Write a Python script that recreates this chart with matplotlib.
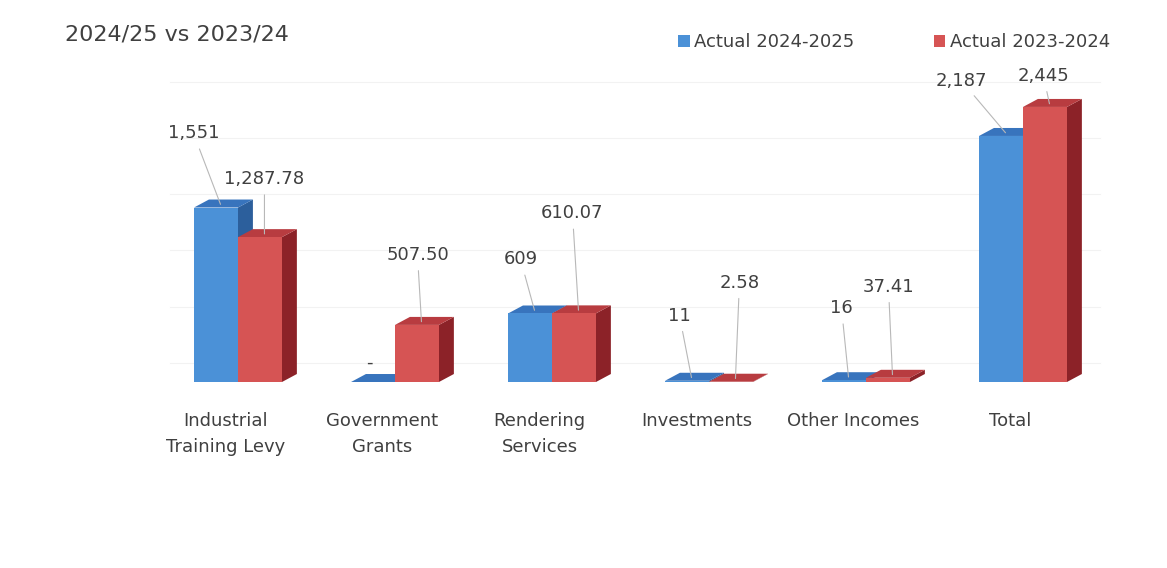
import numpy as np
import matplotlib.pyplot as plt
from matplotlib.patches import Polygon, Patch

categories = ["Industrial\nTraining Levy", "Government\nGrants", "Rendering\nServices",
              "Investments", "Other Incomes", "Total"]
actual2425 = [1551, 0, 609, 11, 16, 2187]
actual2324 = [1287.78, 507.50, 610.07, 2.58, 37.41, 2445]
labels2425 = ["1,551", "-", "609", "11", "16", "2,187"]
labels2324 = ["1,287.78", "507.50", "610.07", "2.58", "37.41", "2,445"]
seriesNames = ["Actual 2024-2025", "Actual 2023-2024"]

# label offsets in pixels from the top of each bar
offsets2425 = [(-27, 71), (-8, 16), (-14, 51), (-12, 62), (-7, 69), (-44, 52)]
offsets2324 = [(0, 55), (-4, 67), (-6, 97), (4, 96), (-4, 88), (-6, 28)]

blueFace, blueTop, blueSide = "#4b91d7", "#3874bd", "#2c5f9c"
redFace, redTop, redSide = "#d65454", "#b83c40", "#8c2228"
textColor = "#404040"

barWidth = 0.28
depthX = 0.095
depthY = 71


def drawBar3d(ax, x, h, face, top, side):
    x0, x1 = x - barWidth / 2, x + barWidth / 2
    ax.add_patch(Polygon([(x1, 0), (x1 + depthX, depthY), (x1 + depthX, h + depthY), (x1, h)],
                         closed=True, facecolor=side, edgecolor="none", zorder=3))
    ax.add_patch(Polygon([(x0, h), (x0 + depthX, h + depthY), (x1 + depthX, h + depthY), (x1, h)],
                         closed=True, facecolor=top, edgecolor="none", zorder=3))
    ax.bar(x, h, width=barWidth, color=face, zorder=3, linewidth=0)


def main():
    fig = plt.figure(figsize=(11.67, 5.68), dpi=100)
    ax = fig.add_axes([0, 0, 1, 1])
    ax.set_xlim(-238 / 157, (1167 - 238) / 157)
    ax.set_ylim((382 - 568) / 0.1125, 382 / 0.1125)
    ax.axis("off")

    # faint back-wall gridlines
    for k in range(6):
        ax.plot([-0.43, 5.49], [k * 500 + 169] * 2, color="#f2f2f2", lw=0.8, zorder=1)

    xs = np.arange(len(categories))
    for i, x in enumerate(xs):
        drawBar3d(ax, x - barWidth / 2, actual2425[i], blueFace, blueTop, blueSide)
        drawBar3d(ax, x + barWidth / 2, actual2324[i], redFace, redTop, redSide)

    for i, x in enumerate(xs):
        for xc, val, lab, off in [(x - barWidth / 2, actual2425[i], labels2425[i], offsets2425[i]),
                                  (x + barWidth / 2, actual2324[i], labels2324[i], offsets2324[i])]:
            anchor = (xc + depthX * 0.3, val + depthY * 0.4)
            arrow = None if lab == "-" else dict(arrowstyle="-", color="#b8b8b8", lw=0.8,
                                                 shrinkA=3, shrinkB=0)
            ax.annotate(lab, xy=anchor, xytext=off, textcoords="offset pixels",
                        ha="center", va="center", fontsize=13, color=textColor,
                        arrowprops=arrow, zorder=5)

        ax.text(x - 0.08, -267, categories[i], ha="center", va="top", fontsize=13,
                color=textColor, linespacing=1.55)

    fig.text(65 / 1167, 1 - 35 / 568, "2024/25 vs 2023/24", ha="left", va="center",
             fontsize=16, color=textColor)

    handles = [Patch(facecolor=blueFace, edgecolor="none"), Patch(facecolor=redFace, edgecolor="none")]
    fig.legend(handles, seriesNames, loc="center", bbox_to_anchor=(894 / 1167, 1 - 42 / 568),
               ncol=2, frameon=False, fontsize=13, handlelength=0.65, handleheight=0.65,
               handletextpad=0.25, columnspacing=4.4, labelcolor=textColor)

    fig.savefig("out.png", dpi=100, facecolor="white")


if __name__ == "__main__":
    main()
